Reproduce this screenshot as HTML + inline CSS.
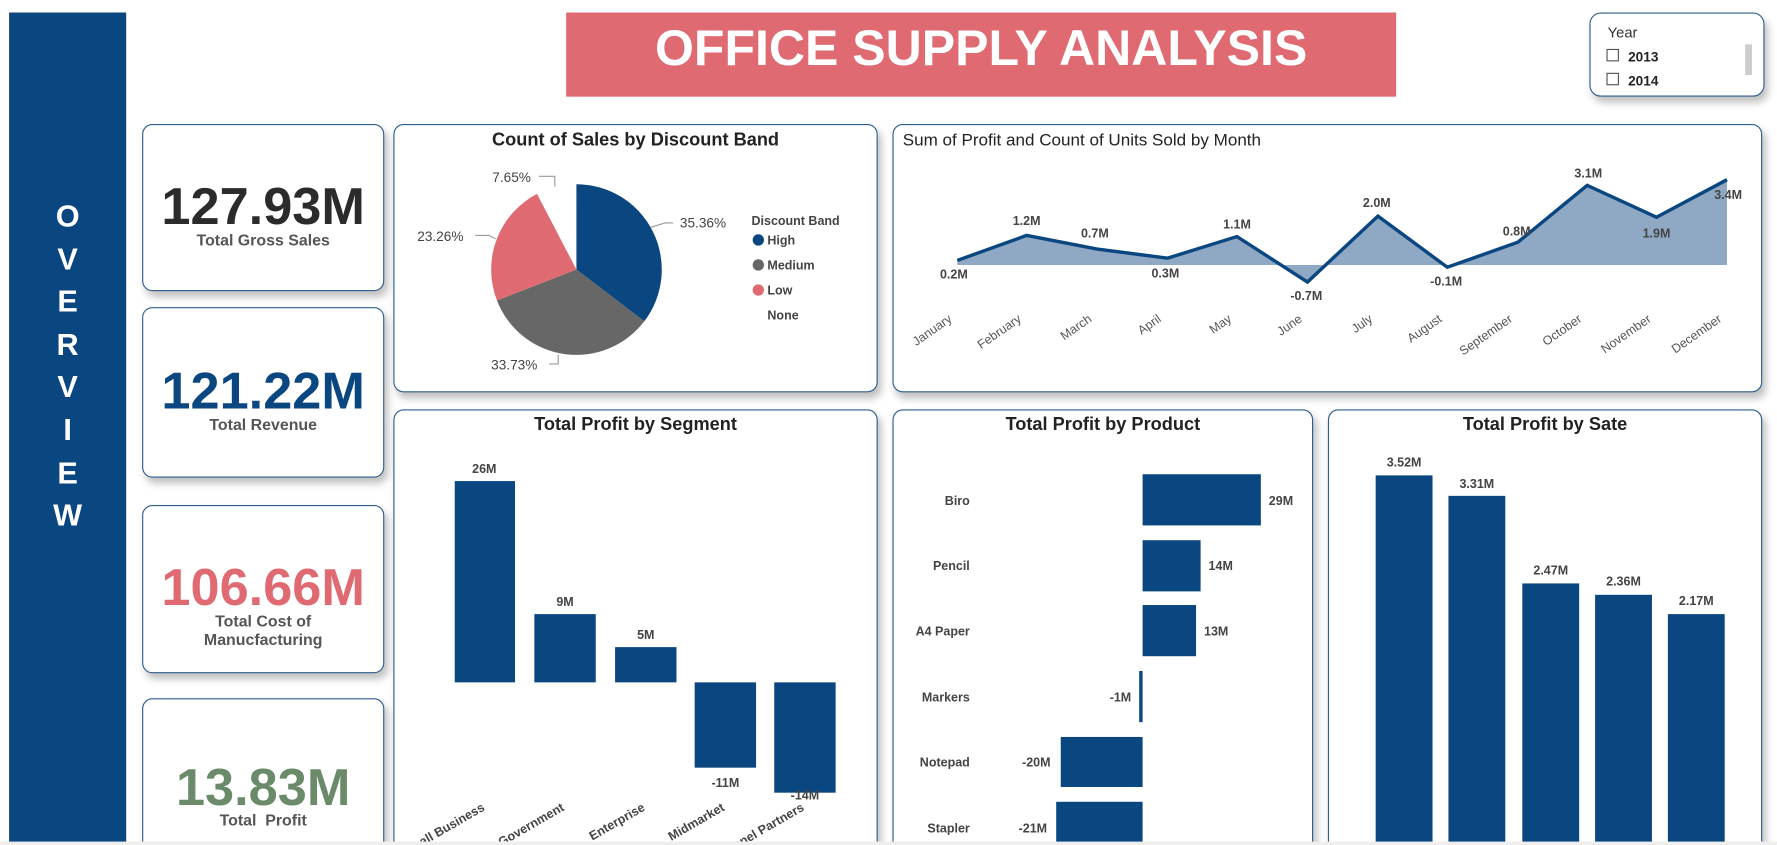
<!DOCTYPE html>
<html><head><meta charset="utf-8"><style>
html,body{margin:0;padding:0;background:#fff;overflow:hidden;width:1777px;height:845px}
#outer{position:relative;width:1777px;height:845px;overflow:hidden}
#w{position:absolute;left:0;top:0;width:1563px;height:743px;overflow:hidden;transform-origin:0 0;transform:scale(1.13692,1.13728);font-family:"Liberation Sans",sans-serif}
.a{position:absolute}
.card{position:absolute;background:#fff;border:1px solid #2f5d8f;border-radius:9px;box-shadow:3px 5px 7px rgba(0,0,0,.25);box-sizing:border-box}
.kv{position:absolute;left:-10px;right:-10px;text-align:center;font-weight:bold;font-size:46px;letter-spacing:0px}
.kl{position:absolute;left:0;right:0;text-align:center;font-size:14px;color:#555;font-weight:bold;line-height:16px}
.t{position:absolute;left:0;right:0;text-align:center;font-weight:bold;font-size:16px;color:#222}
svg text{font-family:"Liberation Sans",sans-serif}
</style></head><body><div id="outer"><div id="w">
<div class="a" style="left:8px;top:11px;width:103px;height:732px;background:#0a4680"></div>
<div class="a" style="left:8px;top:172px;width:103px;text-align:center;color:#fff;font-weight:bold;font-size:27px;line-height:37.6px">O<br>V<br>E<br>R<br>V<br>I<br>E<br>W</div>
<div class="a" style="left:498px;top:11px;width:730px;height:74px;background:#e06a71;color:#fff;font-weight:bold;font-size:44px;text-align:center;line-height:64px">OFFICE SUPPLY ANALYSIS</div>
<div class="card" style="left:1398px;top:11px;width:154px;height:74px;border-radius:10px">
<div class="a" style="left:15px;top:9px;font-size:13px;color:#333">Year</div>
<div class="a" style="left:14px;top:31px;font-size:12px;font-weight:bold;color:#222"><span style="display:inline-block;width:9px;height:9px;border:1px solid #555;margin-right:8px"></span>2013</div>
<div class="a" style="left:14px;top:52px;font-size:12px;font-weight:bold;color:#222"><span style="display:inline-block;width:9px;height:9px;border:1px solid #555;margin-right:8px"></span>2014</div>
<div class="a" style="left:136px;top:27px;width:6px;height:27px;background:#ccc"></div></div>

<div class="card" style="left:125px;top:109px;width:213px;height:147px"><div class="kv" style="top:44px;color:#2b2b2b">127.93M</div><div class="kl" style="top:93px">Total Gross Sales</div></div>
<div class="card" style="left:125px;top:270px;width:213px;height:150px"><div class="kv" style="top:45px;color:#0a4680">121.22M</div><div class="kl" style="top:94px">Total Revenue</div></div>
<div class="card" style="left:125px;top:444px;width:213px;height:148px"><div class="kv" style="top:44px;color:#e06a71">106.66M</div><div class="kl" style="top:93px">Total Cost of<br>Manucfacturing</div></div>
<div class="card" style="left:125px;top:614px;width:213px;height:150px"><div class="kv" style="top:50px;color:#6a8a6a">13.83M</div><div class="kl" style="top:98px">Total &nbsp;Profit</div></div>

<div class="card" style="left:346px;top:109px;width:426px;height:236px"><div class="t" style="top:5px">Count of Sales by Discount Band</div></div>
<div class="card" style="left:785px;top:109px;width:765px;height:236px"><div class="a" style="left:8px;top:5px;font-size:15px;color:#222">Sum of Profit and Count of Units Sold by Month</div></div>
<div class="card" style="left:346px;top:360px;width:426px;height:400px"><div class="t" style="top:4px">Total Profit by Segment</div></div>
<div class="card" style="left:785px;top:360px;width:370px;height:400px"><div class="t" style="top:4px">Total Profit by Product</div></div>
<div class="card" style="left:1168px;top:360px;width:382px;height:400px"><div class="t" style="top:4px">Total Profit by Sate</div></div>

<svg class="a" style="left:0;top:0" width="1563" height="743">
<path d="M507,237 L507,162 A75,75 0 0 1 566.7,282.5 Z" fill="#0a4680"/>
<path d="M507,237 L566.7,282.5 A75,75 0 0 1 437.1,264.2 Z" fill="#676767"/>
<path d="M507,237 L437.1,264.2 A75,75 0 0 1 472.3,170.5 Z" fill="#e06a71"/>
<g fill="none" stroke="#999" stroke-width="1"><path d="M474,155 H488 V164"/><path d="M572,200 L585,196 H592"/><path d="M418,207 H430 L436,210"/><path d="M483,320 H491 V312"/></g>
<g font-size="12" fill="#444"><text x="433" y="160">7.65%</text><text x="598" y="200">35.36%</text><text x="367" y="212">23.26%</text><text x="432" y="325">33.73%</text></g>
<g font-size="11" fill="#444" font-weight="bold"><text x="661" y="198">Discount Band</text><text x="675" y="215">High</text><text x="675" y="237">Medium</text><text x="675" y="259">Low</text><text x="675" y="281">None</text></g>
<circle cx="667" cy="211" r="5" fill="#0a4680"/><circle cx="667" cy="233" r="5" fill="#676767"/><circle cx="667" cy="255" r="5" fill="#e06a71"/>
<polygon points="842,233 842,229 903,207 965,219 1027,227 1088,208 1150,248 1212,190 1273,235 1335,213 1396,163 1457,191 1519,158 1519,233" fill="#8fa8c4"/>
<polyline points="842,229 903,207 965,219 1027,227 1088,208 1150,248 1212,190 1273,235 1335,213 1396,163 1457,191 1519,158" fill="none" stroke="#0a4680" stroke-width="3"/>
<g font-size="11" fill="#444" font-weight="bold" text-anchor="middle"><text x="839" y="245">0.2M</text><text x="903" y="198">1.2M</text><text x="963" y="209">0.7M</text><text x="1025" y="244">0.3M</text><text x="1088" y="201">1.1M</text><text x="1149" y="264">-0.7M</text><text x="1211" y="182">2.0M</text><text x="1272" y="251">-0.1M</text><text x="1334" y="207">0.8M</text><text x="1397" y="156">3.1M</text><text x="1457" y="209">1.9M</text><text x="1520" y="175">3.4M</text></g>
<g font-size="11" fill="#555" text-anchor="end">
<text transform="translate(838,282) rotate(-35)">January</text><text transform="translate(899,282) rotate(-35)">February</text><text transform="translate(961,282) rotate(-35)">March</text><text transform="translate(1022,282) rotate(-35)">April</text><text transform="translate(1084,282) rotate(-35)">May</text><text transform="translate(1146,282) rotate(-35)">June</text><text transform="translate(1208,282) rotate(-35)">July</text><text transform="translate(1269,282) rotate(-35)">August</text><text transform="translate(1331,282) rotate(-35)">September</text><text transform="translate(1392,282) rotate(-35)">October</text><text transform="translate(1453,282) rotate(-35)">November</text><text transform="translate(1515,282) rotate(-35)">December</text></g>
<g fill="#0a4680"><rect x="400" y="423" width="53" height="177"/><rect x="470" y="540" width="54" height="60"/><rect x="541" y="569" width="54" height="31"/><rect x="611" y="600" width="54" height="75"/><rect x="681" y="600" width="54" height="97"/></g>
<g font-size="11" fill="#444" font-weight="bold" text-anchor="middle"><text x="426" y="416">26M</text><text x="497" y="533">9M</text><text x="568" y="562">5M</text><text x="638" y="692">-11M</text><text x="708" y="703">-14M</text></g>
<svg x="347" y="600" width="424" height="140"><g font-size="11" fill="#444" font-weight="bold" text-anchor="end">
<text transform="translate(80,112) rotate(-30)">Small Business</text><text transform="translate(150,112) rotate(-30)">Government</text><text transform="translate(221,112) rotate(-30)">Enterprise</text><text transform="translate(291,112) rotate(-30)">Midmarket</text><text transform="translate(361,112) rotate(-30)">Channel Partners</text></g></svg>
<g fill="#0a4680"><rect x="1005" y="417" width="104" height="45"/><rect x="1005" y="475" width="51" height="45"/><rect x="1005" y="532" width="47" height="45"/><rect x="1002" y="590" width="3" height="45"/><rect x="933" y="648" width="72" height="44"/><rect x="929" y="705" width="76" height="38"/></g>
<g font-size="11" fill="#444" font-weight="bold" text-anchor="end"><text x="853" y="444">Biro</text><text x="853" y="501">Pencil</text><text x="853" y="559">A4 Paper</text><text x="853" y="617">Markers</text><text x="853" y="674">Notepad</text><text x="853" y="732">Stapler</text>
<text x="995" y="617">-1M</text><text x="924" y="674">-20M</text><text x="921" y="732">-21M</text></g>
<g font-size="11" fill="#444" font-weight="bold"><text x="1116" y="444">29M</text><text x="1063" y="501">14M</text><text x="1059" y="559">13M</text></g>
<g fill="#0a4680"><rect x="1210" y="418" width="50" height="325"/><rect x="1274" y="436" width="50" height="307"/><rect x="1339" y="513" width="50" height="230"/><rect x="1403" y="523" width="50" height="220"/><rect x="1467" y="540" width="50" height="203"/></g>
<g font-size="11" fill="#444" font-weight="bold" text-anchor="middle"><text x="1235" y="410">3.52M</text><text x="1299" y="429">3.31M</text><text x="1364" y="505">2.47M</text><text x="1428" y="515">2.36M</text><text x="1492" y="532">2.17M</text></g>
</svg>
<div class="a" style="left:0;top:740px;width:1563px;height:10px;background:#eeeeee"></div>
</div></div></body></html>
